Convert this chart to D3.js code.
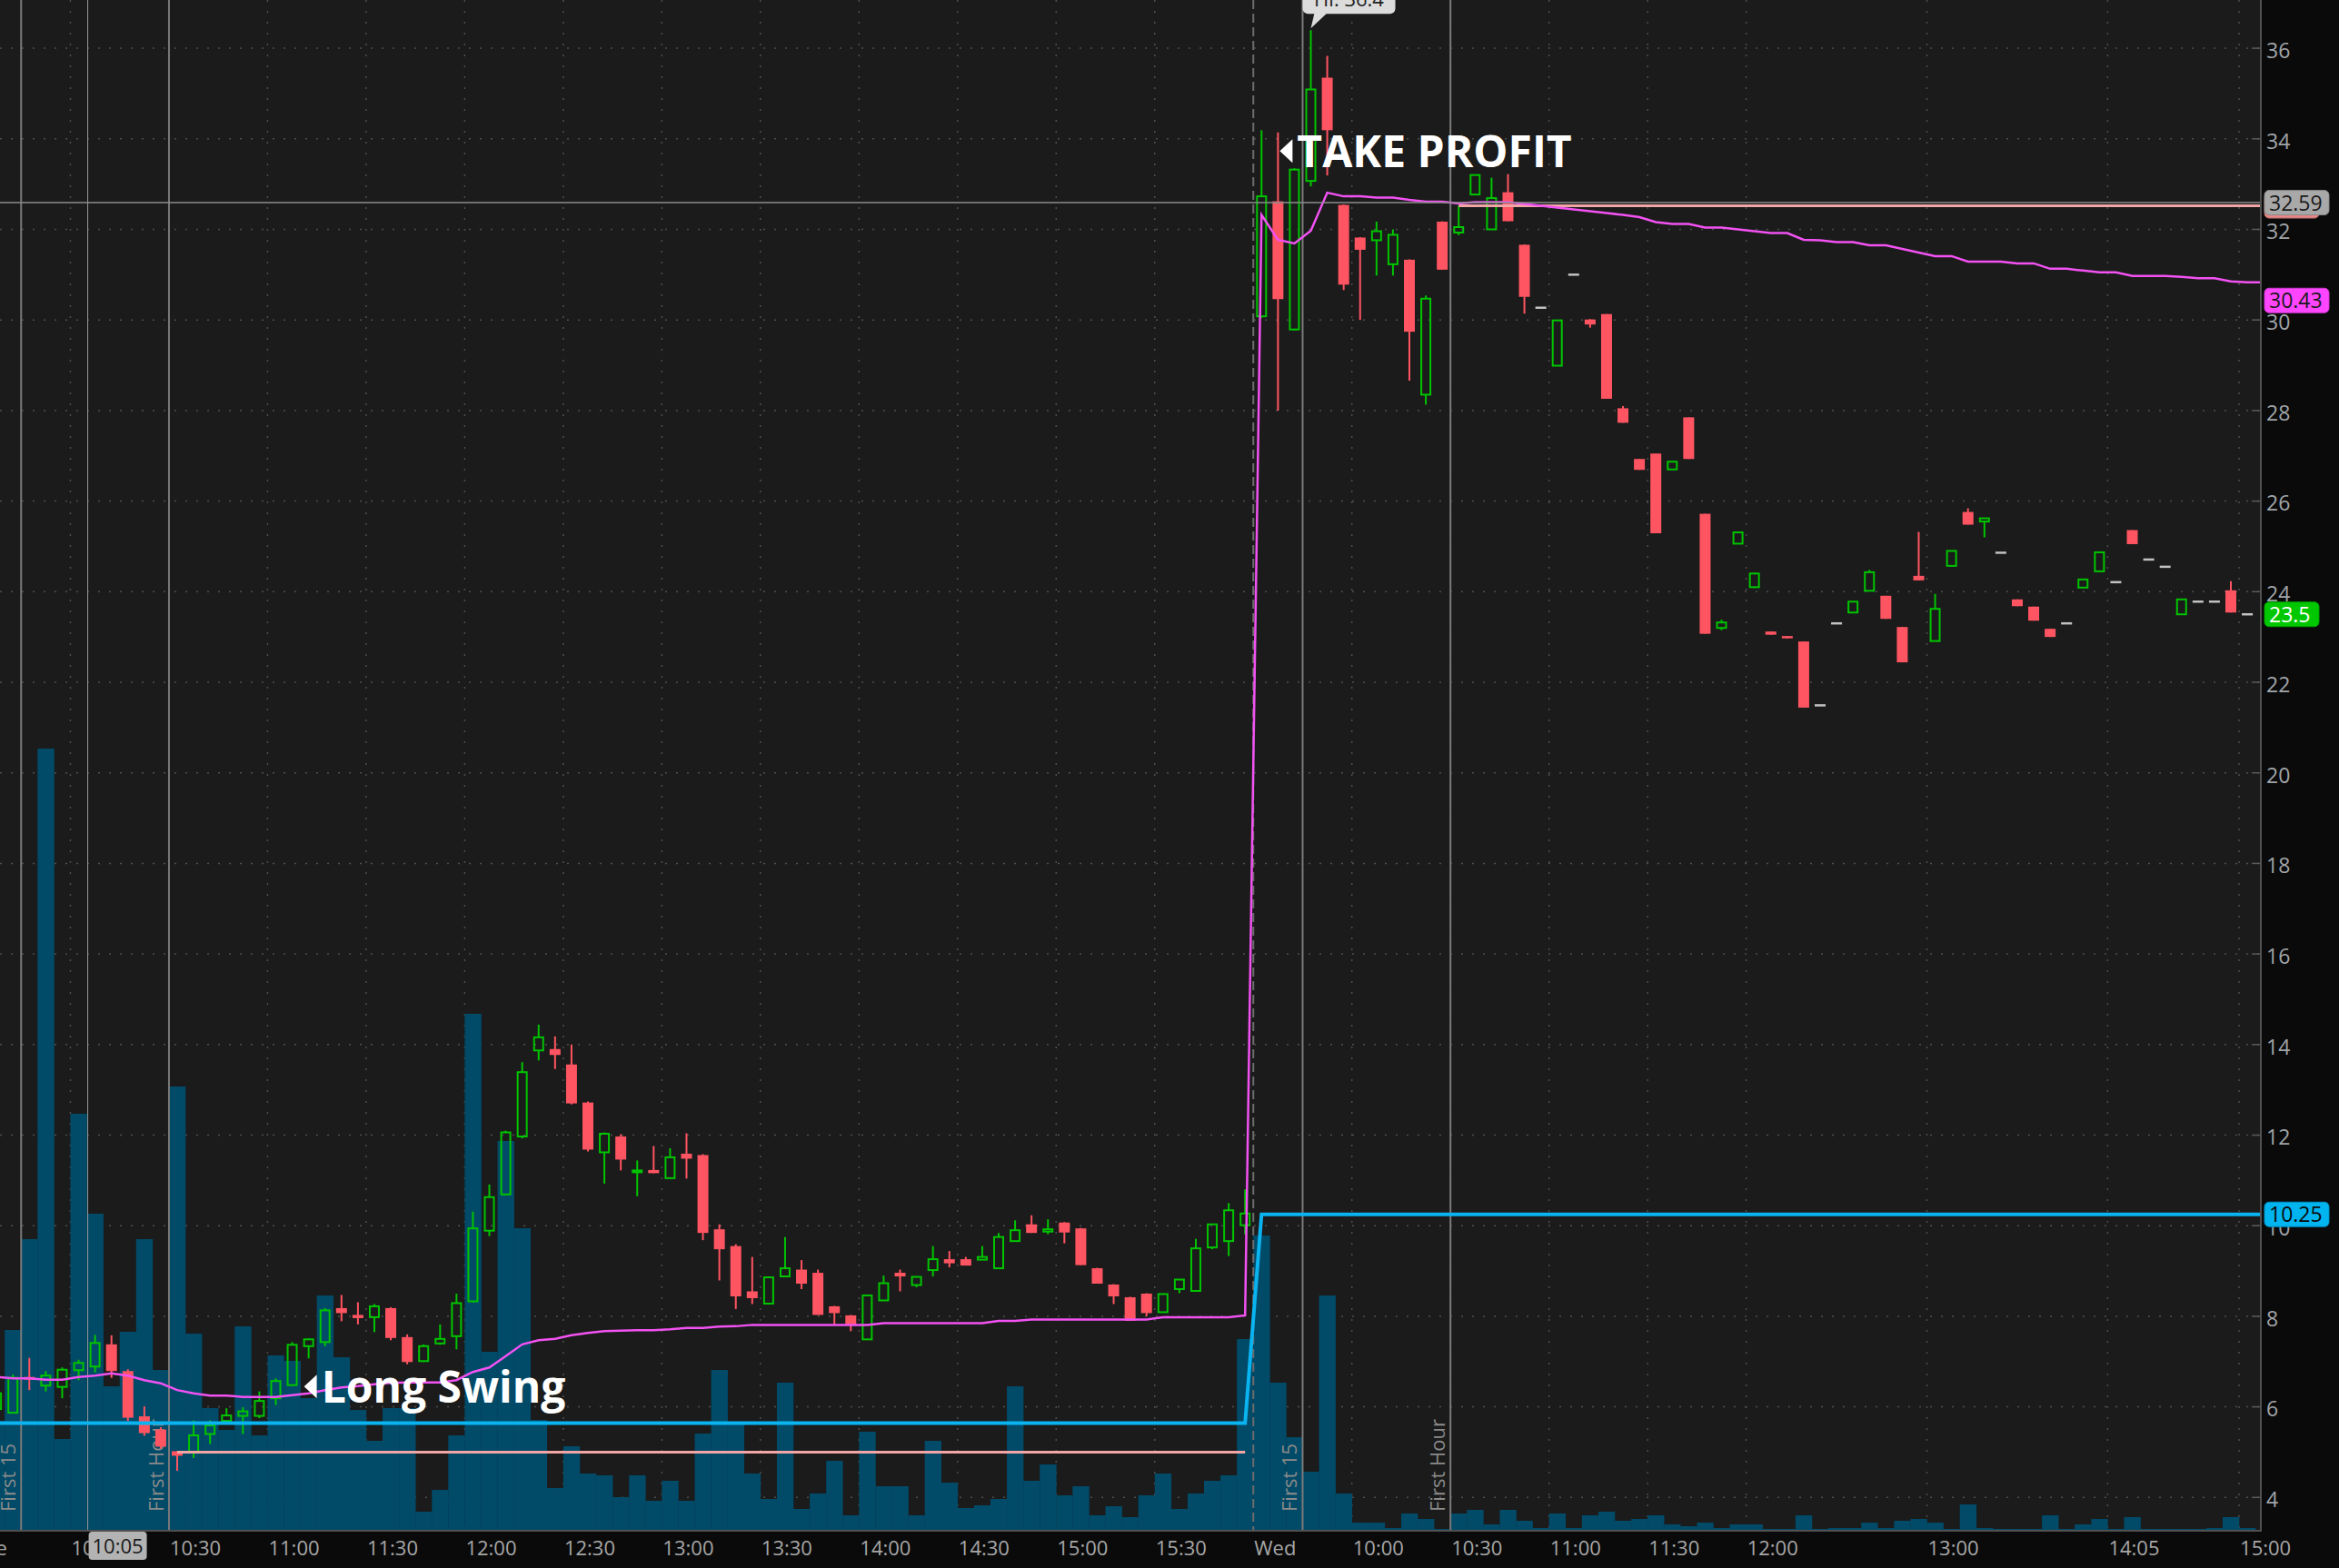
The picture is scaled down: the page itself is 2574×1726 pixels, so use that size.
<!DOCTYPE html>
<html>
<head>
<meta charset="utf-8">
<title>5 min chart - Long Swing / Take Profit</title>
<script src="https://d3js.org/d3.v7.min.js"></script>
<style>
  body { margin: 0; background: #0a0a0a; }
  svg { display: block; }
  text { font-family: "Open Sans", "DejaVu Sans", sans-serif; }
</style>
</head>
<body>
<div id="chart"></div>
<script>
// ---- data (5 minute bars, two sessions) ----
var day1Times = ("09:30 09:35 09:40 09:45 09:50 09:55 10:00 10:05 10:10 10:15 10:20 10:25 " +
  "10:30 10:35 10:40 10:45 10:50 10:55 11:00 11:05 11:10 11:15 11:20 11:25 " +
  "11:30 11:35 11:40 11:45 11:50 11:55 12:00 12:05 12:10 12:15 12:20 12:25 " +
  "12:30 12:35 12:40 12:45 12:50 12:55 13:00 13:05 13:10 13:15 13:20 13:25 " +
  "13:30 13:35 13:40 13:45 13:50 13:55 14:00 14:05 14:10 14:15 14:20 14:25 " +
  "14:30 14:35 14:40 14:45 14:50 14:55 15:00 15:05 15:10 15:15 15:20 15:25 " +
  "15:30 15:35 15:40 15:45 15:50 15:55").split(" ");
// second session has a few 5 min slots with no trades
var day2Times = ("09:30 09:35 09:40 09:45 09:50 09:55 10:00 10:05 10:10 10:15 10:20 10:25 " +
  "10:30 10:35 10:40 10:45 10:50 10:55 11:00 11:05 11:10 11:15 11:20 11:25 " +
  "11:30 11:35 11:40 11:45 11:50 11:55 12:00 12:05 12:10 12:15 12:20 12:25 " +
  "12:30 12:35 12:45 12:50 12:55 13:00 13:05 13:10 13:15 13:20 13:30 13:35 " +
  "13:40 13:45 13:50 13:55 14:05 14:10 14:15 14:25 14:30 14:40 14:45 14:55 15:00").split(" ");

var opens = [
  6.10,5.95,5.87,6.66,6.47,6.44,6.81,6.89,7.38,6.79, 5.79,5.50,5.02,5.00,5.40,5.69,5.80,5.80,6.19,6.48,
  7.34,7.43,8.18,8.03,7.98,8.18,7.54,7.01,7.40,7.56, 8.33,9.89,10.69,11.97,13.87,13.90,13.56,12.72,11.62,11.97,
  11.18,11.23,11.05,11.59,11.56,9.92,9.55,8.55,8.28,8.88, 9.03,8.96,8.22,8.02,7.49,8.35,8.96,8.69,9.02,9.26,
  9.26,9.25,9.06,9.66,10.03,9.87,10.07,9.94,9.06,8.70, 8.42,8.50,8.09,8.60,8.56,9.52,9.66,10.01,
  // Wed
  30.08,32.62,29.79,33.07,35.35,32.54,31.82,31.76,31.23,31.33, 28.35,32.17,31.93,32.77,32.00,32.82,31.66,30.27,28.99,31.00,
  30.01,30.13,28.05,26.93,27.05,26.70,27.85,25.72,23.20,25.06, 24.10,23.12,23.02,22.90,21.49,23.30,23.54,24.02,23.91,23.22,
  24.35,22.91,24.57,25.76,25.55,24.86,23.83,23.67,23.18,23.30, 24.09,24.45,24.21,25.36,24.71,24.55,23.50,23.78,23.78,24.03,
  23.50];
var highs = [
  6.60,6.40,6.71,7.08,6.79,6.87,7.04,7.59,7.58,6.83, 6.01,5.55,5.03,5.70,5.70,5.97,5.99,6.34,6.63,7.43,
  7.51,8.18,8.47,8.31,8.27,8.20,7.60,7.38,7.82,8.50, 10.31,10.91,12.10,13.61,14.44,14.18,14.00,12.74,12.06,12.02,
  11.44,11.76,11.71,12.04,11.58,10.03,9.59,9.31,8.88,9.75, 9.24,9.03,8.23,8.03,8.46,8.90,9.03,8.87,9.55,9.44,
  9.31,9.55,9.84,10.12,10.23,10.14,10.08,9.95,9.07,8.71, 8.43,8.51,8.50,8.81,9.71,10.03,10.50,10.80,
  // Wed
  34.19,34.14,33.35,36.40,35.83,32.55,31.83,32.17,32.00,31.34, 30.54,32.18,32.52,33.20,33.14,33.22,31.67,30.27,29.99,31.00,
  30.02,30.13,28.10,26.93,27.05,26.87,27.85,25.72,23.38,25.31, 24.42,23.12,23.02,22.90,21.49,23.30,23.78,24.48,23.91,23.22,
  25.32,23.95,24.90,25.84,25.62,24.86,23.83,23.67,23.18,23.30, 24.27,24.87,24.21,25.36,24.71,24.55,23.83,23.78,23.78,24.23,
  23.50];
var lows = [
  6.00,5.90,5.85,6.37,6.34,6.19,6.59,6.76,6.64,5.69, 5.36,5.08,4.59,4.87,5.18,5.62,5.40,5.75,6.04,6.46,
  7.07,7.34,7.89,7.82,7.65,7.47,6.94,6.99,7.37,7.27, 8.31,9.77,10.68,11.93,13.65,13.46,12.68,11.64,10.93,11.22,
  10.65,11.16,11.05,11.04,9.68,8.79,8.16,8.27,8.27,8.88, 8.60,8.03,7.82,7.67,7.48,8.35,8.55,8.64,8.88,9.08,
  9.12,9.25,9.04,9.66,9.84,9.81,9.61,9.13,8.72,8.27, 7.90,8.00,8.09,8.51,8.56,9.48,9.33,9.81,
  // Wed
  30.05,28.00,29.77,32.95,33.19,30.66,30.00,30.98,30.98,28.66, 28.13,31.11,31.87,32.77,32.00,32.18,30.14,30.27,28.99,31.00,
  29.83,28.26,27.73,26.69,25.29,26.70,26.93,23.07,23.15,25.06, 24.08,23.05,22.97,21.44,21.49,23.30,23.54,24.02,23.40,22.44,
  24.25,22.91,24.57,25.48,25.20,24.86,23.68,23.36,23.00,23.30, 24.09,24.45,24.21,25.05,24.71,24.55,23.50,23.78,23.78,23.54,
  23.50];
var closes = [
  6.40,6.30,6.64,6.60,6.69,6.82,6.97,7.41,6.79,5.76, 5.42,5.12,4.92,5.37,5.59,5.81,5.90,6.13,6.57,7.37,
  7.49,8.13,8.07,7.96,8.22,7.52,6.99,7.34,7.50,8.29, 9.94,10.63,12.06,13.39,14.16,13.77,12.70,11.68,12.03,11.46,
  11.22,11.16,11.51,11.48,9.84,9.48,8.44,8.40,8.86,9.06, 8.72,8.03,8.07,7.82,8.46,8.73,8.88,8.87,9.26,9.17,
  9.12,9.31,9.75,9.90,9.84,9.92,9.85,9.13,8.72,8.44, 7.90,8.07,8.49,8.81,9.50,10.03,10.34,10.27,
  // Wed
  32.73,30.46,33.32,35.09,34.19,30.78,31.55,31.96,31.88,29.74, 30.47,31.11,32.05,33.20,32.69,32.18,30.51,30.27,29.99,31.00,
  29.90,28.26,27.73,26.69,25.29,26.87,26.93,23.07,23.32,25.31, 24.40,23.05,22.97,21.44,21.49,23.30,23.78,24.43,23.40,22.44,
  24.25,23.62,24.90,25.48,25.62,24.86,23.68,23.36,23.00,23.30, 24.27,24.87,24.21,25.05,24.71,24.55,23.83,23.78,23.78,23.54,
  23.50];
// volume, thousands of shares
var volumes = [
  150,120,220,320,860,100,458,348,158,218, 320,176,488,216,134,110,224,104,192,186,
  145,258,190,132,98,134,134,20,44,104, 568,196,428,332,121,46,92,62,60,36,
  60,32,54,32,106,176,118,62,34,162, 23,40,76,16,108,48,48,16,98,52,
  24,27,34,158,54,72,38,48,16,26, 14,38,62,23,40,54,60,210,
  // Wed
  324,162,102,64,258,40,8,8,2,18, 12,1,18,22,6,22,10,2,18,2,
  16,20,10,12,16,6,4,8,2,6, 6,1,1,16,1,2,2,8,2,10,
  12,8,1,28,2,1,1,1,16,1, 6,12,1,14,1,1,1,1,2,14,
  2];
var vwap = [
  6.66,6.66,6.63,6.63,6.60,6.60,6.66,6.69,6.74,6.69, 6.59,6.52,6.37,6.30,6.25,6.25,6.22,6.22,6.22,6.26,
  6.30,6.37,6.43,6.46,6.50,6.53,6.54,6.54,6.54,6.59, 6.77,6.87,7.12,7.38,7.47,7.50,7.58,7.63,7.67,7.68,
  7.69,7.69,7.71,7.74,7.74,7.77,7.78,7.81,7.81,7.81, 7.81,7.81,7.81,7.81,7.81,7.85,7.85,7.85,7.85,7.85,
  7.85,7.85,7.90,7.90,7.93,7.93,7.93,7.93,7.93,7.93, 7.93,7.93,7.98,7.98,7.98,7.98,7.98,8.02,
  // Wed
  32.32,31.77,31.69,31.97,32.81,32.73,32.73,32.70,32.70,32.65, 32.61,32.61,32.57,32.60,32.60,32.60,32.56,32.52,32.48,32.44,
  32.40,32.36,32.32,32.27,32.16,32.12,32.12,32.04,32.04,32.00, 31.96,31.92,31.92,31.77,31.76,31.72,31.72,31.65,31.65,31.57,
  31.49,31.41,31.41,31.29,31.29,31.29,31.25,31.25,31.13,31.13, 31.09,31.05,31.05,30.97,30.97,30.97,30.95,30.92,30.92,30.85,
  30.83];

// time axis labels
var timeTicks = [["Tue 09:30","Tue"],["Tue 10:00","10:00"],["Tue 10:30","10:30"],["Tue 11:00","11:00"],
  ["Tue 11:30","11:30"],["Tue 12:00","12:00"],["Tue 12:30","12:30"],["Tue 13:00","13:00"],["Tue 13:30","13:30"],
  ["Tue 14:00","14:00"],["Tue 14:30","14:30"],["Tue 15:00","15:00"],["Tue 15:30","15:30"],["Wed 09:30","Wed"],
  ["Wed 10:00","10:00"],["Wed 10:30","10:30"],["Wed 11:00","11:00"],["Wed 11:30","11:30"],["Wed 12:00","12:00"],
  ["Wed 13:00","13:00"],["Wed 14:05","14:05"],["Wed 15:00","15:00"]];
var priceTicks = [4,6,8,10,12,14,16,18,20,22,24,26,28,30,32,34,36];

// study / drawing levels
var refLevels = [5.64, 10.25];            // cyan line, one per session
var stopLines = [["Tue 10:30","Tue 15:55",5.00],["Wed 10:30","Wed 15:00",32.52]];
var sessionMarks = [["Tue 09:45","First 15"],["Tue 10:30","First Hour"],["Wed 09:45","First 15"],["Wed 10:30","First Hour"]];
var notes = [["Wed 09:35",33.73,"TAKE PROFIT"],["Tue 11:10",6.45,"Long Swing"]];
var cursor = ["Tue 10:05", 32.59];
var priceTags = [[32.52,"","#e88787","#1a1a1a"],[32.59,"32.59","#a8a8a8","#1a1a1a"],[30.43,"30.43","#ff45ff","#1a1a1a"],
                 [23.5,"23.5","#00c800","#ffffff"],[10.25,"10.25","#00b4f0","#0a0a0a"]];

// ---- layout ----
var W = 2574, H = 1726, plotR = 2487, plotB = 1684;
var times = day1Times.map(function(t){ return "Tue " + t; }).concat(day2Times.map(function(t){ return "Wed " + t; }));
var bars = times.map(function(t, i){
  return {t: t, o: opens[i], h: highs[i], l: lows[i], c: closes[i], v: volumes[i], w: vwap[i], day: t.slice(0,3)};
});

var x = d3.scaleBand().domain(times).range([-31, -31 + times.length * 18.08]).padding(0);
var y = d3.scaleLinear().domain([3.284, 37.065]).range([plotB, 0]);
var vol = d3.scaleLinear().domain([0, 1000]).range([plotB, plotB - 1000]);
function cx(t){ return x(t) + x.bandwidth() / 2; }

var svg = d3.select("#chart").append("svg").attr("width", W).attr("height", H);
svg.append("rect").attr("width", W).attr("height", H).attr("fill", "#0a0a0a");
svg.append("defs").append("clipPath").attr("id", "clip")
  .append("rect").attr("x", 0).attr("y", 0).attr("width", plotR).attr("height", plotB);

var plot = svg.append("g").attr("clip-path", "url(#clip)");
plot.append("rect").attr("width", plotR).attr("height", plotB).attr("fill", "#1b1b1b");

// grid
plot.append("g").selectAll("line").data(priceTicks).enter().append("line")
  .attr("x1", 0).attr("x2", plotR).attr("y1", function(d){ return y(d); }).attr("y2", function(d){ return y(d); })
  .attr("stroke", "#4e4e4e").attr("stroke-width", 1.5).attr("stroke-dasharray", "2,10");
plot.append("g").selectAll("line").data(priceTicks).enter().append("line")
  .attr("x1", plotR - 9).attr("x2", plotR).attr("y1", function(d){ return y(d); }).attr("y2", function(d){ return y(d); })
  .attr("stroke", "#5a5a5a").attr("stroke-width", 1.5);
plot.append("g").selectAll("line").data(timeTicks.filter(function(d){ return d[1] != "Wed" && d[1] != "Tue"; })).enter().append("line")
  .attr("x1", function(d){ return x(d[0]); }).attr("x2", function(d){ return x(d[0]); })
  .attr("y1", 0).attr("y2", plotB)
  .attr("stroke", "#4e4e4e").attr("stroke-width", 1.5).attr("stroke-dasharray", "2,10");

// volume
plot.append("g").selectAll("rect").data(bars).enter().append("rect")
  .attr("x", function(d){ return x(d.t); }).attr("width", x.bandwidth() + 0.3)
  .attr("y", function(d){ return vol(d.v); }).attr("height", function(d){ return plotB - vol(d.v); })
  .attr("fill", "#014a68");

// session break and markers
plot.append("line").attr("x1", x("Wed 09:30")).attr("x2", x("Wed 09:30")).attr("y1", 0).attr("y2", plotB)
  .attr("stroke", "#6c6c6c").attr("stroke-width", 2).attr("stroke-dasharray", "10,5");
sessionMarks.forEach(function(m){
  var xx = x(m[0]);
  plot.append("line").attr("x1", xx).attr("x2", xx).attr("y1", 0).attr("y2", plotB)
    .attr("stroke", "#7a7a7a").attr("stroke-width", 2);
  plot.append("text").attr("transform", "translate(" + (xx - 6) + ",1664) rotate(-90)")
    .attr("font-size", 22).attr("fill", "#8a8a8a").text(m[1]);
});

// cursor
plot.append("line").attr("x1", x(cursor[0]) + 1).attr("x2", x(cursor[0]) + 1).attr("y1", 0).attr("y2", plotB)
  .attr("stroke", "#9a9a9a").attr("stroke-width", 1);

// candles
var green = "#00c400", red = "#ff5461";
var candles = plot.append("g").selectAll("g").data(bars).enter().append("g")
  .attr("transform", function(d){ return "translate(" + cx(d.t) + ",0)"; });
candles.each(function(d){
  var g = d3.select(this);
  if (d.o === d.c && d.h === d.l) {
    g.append("rect").attr("x", -6).attr("y", y(d.c) - 1.25).attr("width", 12).attr("height", 2.5).attr("fill", "#c2c2c2");
    return;
  }
  if (d.c >= d.o) {
    var top = y(d.c), bot = y(d.o);
    g.append("line").attr("x1", 0).attr("x2", 0).attr("y1", y(d.h)).attr("y2", top).attr("stroke", green).attr("stroke-width", 2);
    g.append("line").attr("x1", 0).attr("x2", 0).attr("y1", bot).attr("y2", y(d.l)).attr("stroke", green).attr("stroke-width", 2);
    g.append("rect").attr("x", -5).attr("y", top).attr("width", 10).attr("height", Math.max(bot - top, 2))
      .attr("fill", "none").attr("stroke", green).attr("stroke-width", 2);
  } else {
    var t2 = y(d.o), b2 = y(d.c);
    g.append("line").attr("x1", 0).attr("x2", 0).attr("y1", y(d.h)).attr("y2", y(d.l)).attr("stroke", red).attr("stroke-width", 2);
    g.append("rect").attr("x", -6).attr("y", t2).attr("width", 12).attr("height", Math.max(b2 - t2, 2.5)).attr("fill", red);
  }
});

// level lines
var line = d3.line().x(function(p){ return p[0]; }).y(function(p){ return y(p[1]); });
var cyanPts = [[0, refLevels[0]]].concat(bars.map(function(d){ return [cx(d.t), d.day == "Tue" ? refLevels[0] : refLevels[1]]; }), [[plotR, refLevels[1]]]);
plot.append("path").attr("d", line(cyanPts)).attr("fill", "none").attr("stroke", "#0ab4f0").attr("stroke-width", 4);
stopLines.forEach(function(s, i){
  var x2 = i == stopLines.length - 1 ? plotR : cx(s[1]);
  plot.append("line").attr("x1", cx(s[0])).attr("x2", x2).attr("y1", y(s[2])).attr("y2", y(s[2]))
    .attr("stroke", "#f1a5a5").attr("stroke-width", 3);
});
// vwap, carried to both plot edges
var vwapPts = bars.map(function(d){ return [cx(d.t), d.w]; });
vwapPts.unshift([0, vwap[0]]);
vwapPts.push([plotR, vwap[vwap.length - 1]]);
plot.append("path").attr("d", line(vwapPts)).attr("fill", "none").attr("stroke", "#f252f2").attr("stroke-width", 2.5);

// horizontal cursor line
plot.append("line").attr("x1", 0).attr("x2", plotR).attr("y1", y(cursor[1])).attr("y2", y(cursor[1]))
  .attr("stroke", "#8c8c8c").attr("stroke-width", 1.5);

// notes
notes.forEach(function(n, i){
  var tx = cx(n[0]) + (i == 0 ? 2 : -5), ty = y(n[1]);
  plot.append("path").attr("d", "M" + tx + "," + ty + " L" + (tx + 14) + "," + (ty - 13) + " L" + (tx + 14) + "," + (ty + 13) + " Z")
    .attr("fill", "#ffffff");
  plot.append("text").attr("x", tx + 19).attr("y", ty + 18).attr("font-size", 48).attr("font-weight", 700)
    .attr("fill", "#ffffff").text(n[2]);
});

// high bubble
var hiBar = bars[d3.maxIndex(bars, function(d){ return d.h; })];
var hx = cx(hiBar.t), hy = y(hiBar.h);
plot.append("rect").attr("x", hx - 9).attr("y", hy - 48).attr("width", 102).attr("height", 30).attr("rx", 6).attr("fill", "#dcdcdc");
plot.append("path").attr("d", "M" + (hx + 4) + "," + (hy - 19) + " L" + (hx + 18) + "," + (hy - 19) + " L" + hx + "," + (hy - 2) + " Z").attr("fill", "#dcdcdc");
plot.append("text").attr("x", hx + 42).attr("y", hy - 26).attr("text-anchor", "middle").attr("font-size", 22)
  .attr("fill", "#222").text("Hi: " + hiBar.h.toFixed(1));

// axes
svg.append("line").attr("x1", 0).attr("x2", plotR + 1).attr("y1", plotB + 1).attr("y2", plotB + 1).attr("stroke", "#505050").attr("stroke-width", 2);
svg.append("line").attr("x1", plotR + 1).attr("x2", plotR + 1).attr("y1", 0).attr("y2", plotB + 2).attr("stroke", "#505050").attr("stroke-width", 2);

var xAxis = svg.append("g").attr("transform", "translate(0," + plotB + ")")
  .call(d3.axisBottom(x).tickValues(timeTicks.map(function(d){ return d[0]; }))
    .tickFormat(function(t){ return timeTicks.find(function(d){ return d[0] == t; })[1]; }).tickSize(0));
xAxis.select(".domain").remove();
xAxis.selectAll("text").attr("x", -x.bandwidth() / 2 + 1).attr("y", 28).attr("dy", 0)
  .attr("text-anchor", "start").attr("font-size", 22).attr("fill", "#a6a6a6").style("font-family", '"Open Sans", sans-serif');

var yAxis = svg.append("g").attr("transform", "translate(" + plotR + ",0)")
  .call(d3.axisRight(y).tickValues(priceTicks).tickSize(0).tickPadding(7));
yAxis.select(".domain").remove();
yAxis.selectAll("text").attr("dy", "0.45em").attr("font-size", 23).attr("fill", "#a0a4a8").style("font-family", '"Open Sans", sans-serif');

// price tags on the right axis
priceTags.forEach(function(p){
  var cy = y(p[0]);
  var w = p[1].length <= 4 && p[1].length > 0 ? 60 : 71;
  if (p[1] == "") w = 60;
  svg.append("rect").attr("x", plotR + 5).attr("y", cy - 13.5).attr("width", w).attr("height", 27).attr("rx", 5)
    .attr("fill", p[2]).attr("stroke", d3.color(p[2]).darker(0.6)).attr("stroke-width", 1);
  if (p[1]) svg.append("text").attr("x", plotR + 10).attr("y", cy + 8.5).attr("font-size", 23).attr("fill", p[3]).text(p[1]);
});

// cursor time tag
var ctx = x(cursor[0]) + 2;
svg.append("rect").attr("x", ctx).attr("y", plotB + 2).attr("width", 64).attr("height", 31).attr("rx", 4).attr("fill", "#b3b3b3");
svg.append("text").attr("x", ctx + 32).attr("y", plotB + 26).attr("text-anchor", "middle").attr("font-size", 22)
  .attr("fill", "#1a1a1a").text(cursor[0].slice(4));
</script>
</body>
</html>
